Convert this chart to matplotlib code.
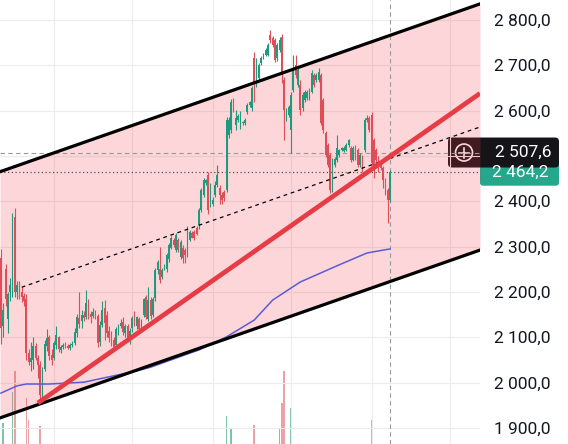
import matplotlib.pyplot as plt
import numpy as np
from matplotlib.patches import FancyBboxPatch, Circle
from matplotlib.lines import Line2D
from matplotlib.transforms import IdentityTransform

# OHLC candles, oldest first
opens = [
    2275, 2125, 2250, 2140, 2200, 2195, 2365, 2200, 2215, 2200,
    2192, 2185, 2065, 2045, 2050, 2080, 2055, 2040, 1972, 2030,
    2080, 2100, 2060, 2055, 2082, 2100, 2073, 2078, 2082, 2080,
    2077, 2084, 2088, 2110, 2142, 2135, 2150, 2145, 2178, 2152,
    2148, 2156, 2148, 2090, 2128, 2165, 2150, 2115, 2108, 2095,
    2082, 2112, 2125, 2134, 2110, 2124, 2100, 2120, 2150, 2124,
    2140, 2122, 2150, 2188, 2140, 2182, 2150, 2187, 2248, 2250,
    2232, 2252, 2250, 2272, 2298, 2315, 2293, 2315, 2278, 2298,
    2293, 2282, 2315, 2330, 2332, 2342, 2348, 2381, 2414, 2440,
    2458, 2393, 2395, 2415, 2437, 2430, 2415, 2420, 2425, 2547,
    2557, 2612, 2568, 2580, 2568, 2572, 2572, 2597, 2612, 2606,
    2716, 2657, 2672, 2705, 2718, 2723, 2723, 2767, 2760, 2756,
    2716, 2734, 2762, 2668, 2584, 2590, 2557, 2646, 2701, 2657,
    2657, 2606, 2624, 2628, 2628, 2642, 2679, 2668, 2668, 2679,
    2624, 2551, 2524, 2502, 2425, 2480, 2491, 2502, 2513, 2511,
    2513, 2524, 2518, 2491, 2520, 2513, 2480, 2498, 2513, 2579,
    2584, 2590, 2535, 2513, 2496, 2482, 2474, 2447, 2425, 2403,
]
highs = [
    2295, 2175, 2262, 2200, 2230, 2375, 2385, 2225, 2225, 2212,
    2198, 2195, 2075, 2090, 2100, 2088, 2060, 2048, 2035, 2095,
    2118, 2105, 2075, 2092, 2125, 2104, 2082, 2088, 2090, 2086,
    2088, 2092, 2120, 2152, 2200, 2160, 2158, 2205, 2185, 2158,
    2165, 2160, 2152, 2135, 2180, 2182, 2158, 2125, 2115, 2100,
    2122, 2130, 2140, 2145, 2130, 2130, 2120, 2146, 2158, 2148,
    2145, 2140, 2186, 2194, 2210, 2188, 2190, 2252, 2270, 2300,
    2252, 2262, 2286, 2308, 2324, 2320, 2330, 2320, 2315, 2304,
    2296, 2345, 2336, 2334, 2336, 2346, 2385, 2430, 2452, 2450,
    2465, 2440, 2410, 2445, 2480, 2435, 2420, 2425, 2585, 2585,
    2625, 2628, 2602, 2592, 2600, 2578, 2584, 2616, 2622, 2654,
    2730, 2716, 2705, 2720, 2726, 2738, 2750, 2778, 2765, 2760,
    2750, 2762, 2768, 2675, 2606, 2612, 2640, 2723, 2723, 2695,
    2668, 2640, 2646, 2646, 2650, 2690, 2684, 2682, 2695, 2684,
    2628, 2556, 2528, 2506, 2496, 2497, 2547, 2516, 2520, 2521,
    2528, 2538, 2522, 2522, 2524, 2517, 2506, 2502, 2584, 2590,
    2588, 2597, 2540, 2518, 2500, 2486, 2478, 2452, 2430, 2470,
]
lows = [
    2085, 2100, 2170, 2110, 2180, 2190, 2190, 2185, 2185, 2178,
    2170, 2050, 2040, 2025, 2030, 2050, 2010, 1960, 1965, 2025,
    2070, 2050, 2040, 2050, 2075, 2068, 2065, 2074, 2076, 2074,
    2072, 2078, 2084, 2100, 2120, 2120, 2135, 2140, 2140, 2132,
    2142, 2140, 2078, 2080, 2122, 2095, 2100, 2090, 2080, 2072,
    2078, 2105, 2120, 2105, 2100, 2090, 2085, 2112, 2126, 2118,
    2112, 2118, 2145, 2140, 2135, 2140, 2145, 2180, 2240, 2220,
    2228, 2248, 2245, 2266, 2294, 2300, 2288, 2288, 2272, 2265,
    2265, 2278, 2312, 2318, 2314, 2325, 2340, 2376, 2410, 2436,
    2372, 2388, 2390, 2410, 2432, 2393, 2395, 2400, 2420, 2540,
    2550, 2598, 2557, 2575, 2560, 2568, 2568, 2592, 2608, 2600,
    2620, 2652, 2668, 2700, 2714, 2720, 2720, 2750, 2740, 2708,
    2710, 2730, 2660, 2535, 2578, 2585, 2507, 2640, 2672, 2652,
    2590, 2600, 2620, 2624, 2624, 2638, 2652, 2664, 2664, 2568,
    2550, 2498, 2476, 2419, 2420, 2476, 2486, 2498, 2510, 2508,
    2510, 2520, 2486, 2488, 2492, 2476, 2476, 2465, 2508, 2575,
    2552, 2480, 2452, 2486, 2465, 2470, 2430, 2415, 2352, 2398,
]
closes = [
    2120, 2160, 2185, 2195, 2215, 2335, 2200, 2215, 2195, 2188,
    2180, 2065, 2045, 2055, 2080, 2055, 2040, 1972, 2030, 2085,
    2098, 2058, 2050, 2088, 2105, 2075, 2078, 2082, 2080, 2077,
    2084, 2086, 2112, 2145, 2130, 2150, 2142, 2175, 2152, 2145,
    2156, 2150, 2088, 2128, 2160, 2132, 2110, 2098, 2088, 2078,
    2118, 2125, 2132, 2112, 2124, 2096, 2115, 2142, 2132, 2144,
    2118, 2136, 2184, 2144, 2182, 2146, 2184, 2248, 2266, 2226,
    2248, 2257, 2282, 2304, 2320, 2304, 2326, 2293, 2311, 2276,
    2282, 2320, 2332, 2320, 2318, 2328, 2381, 2425, 2447, 2447,
    2381, 2437, 2403, 2437, 2459, 2415, 2403, 2407, 2579, 2579,
    2620, 2601, 2584, 2588, 2597, 2575, 2580, 2612, 2618, 2650,
    2660, 2712, 2701, 2716, 2723, 2734, 2745, 2756, 2745, 2712,
    2745, 2756, 2679, 2601, 2601, 2608, 2635, 2690, 2679, 2690,
    2601, 2635, 2642, 2642, 2646, 2683, 2657, 2679, 2686, 2573,
    2557, 2503, 2480, 2425, 2491, 2493, 2518, 2513, 2518, 2518,
    2524, 2535, 2491, 2518, 2496, 2480, 2502, 2469, 2579, 2584,
    2557, 2485, 2469, 2491, 2469, 2474, 2447, 2419, 2403, 2464.2,
]
volumes = [
    38, 64, 35, 30, 33, 85, 99, 32, 28, 30,
    34, 81, 66, 36, 30, 27, 40, 62, 44, 33,
    29, 31, 27, 30, 33, 26, 21, 19, 20, 18,
    22, 20, 31, 35, 38, 26, 24, 36, 29, 22,
    21, 19, 41, 30, 35, 37, 34, 26, 27, 24,
    30, 22, 20, 27, 25, 28, 24, 29, 26, 25,
    27, 24, 33, 35, 38, 32, 30, 44, 36, 41,
    26, 22, 30, 32, 29, 24, 28, 30, 27, 31,
    25, 36, 24, 20, 22, 23, 34, 42, 40, 25,
    46, 33, 26, 31, 35, 30, 24, 22, 69, 45,
    60, 38, 31, 24, 28, 20, 21, 30, 26, 39,
    63, 41, 33, 27, 26, 30, 36, 44, 32, 40,
    35, 60, 78, 99, 42, 30, 74, 46, 38, 31,
    40, 30, 27, 24, 25, 33, 28, 22, 27, 48,
    44, 39, 37, 47, 42, 28, 35, 25, 21, 20,
    24, 26, 30, 27, 25, 29, 26, 31, 45, 28,
    33, 66, 47, 30, 34, 26, 38, 41, 48, 44,
]

# moving average, sampled at candle indices
ma_idx = [0, 7, 11, 21, 36, 59, 65, 82, 86, 98, 110, 118, 130, 147, 159, 169]
ma_vals = [1977, 1993, 1997, 1997, 2001, 2026, 2034, 2065, 2072, 2101,
           2138, 2182, 2222, 2260, 2286, 2295]

# parallel channel and trend line anchors (candle index, price)
chan_idx = [0, 169]
chan_upper = [2466, 2766]
chan_lower = [1923, 2223]
mid_start = 9
trend_idx = [16, 169]
trend_vals = [1955, 2499]

price_ticks = [1900, 2000, 2100, 2200, 2300, 2400, 2500, 2600, 2700, 2800]
time_grid = [23, 57, 92, 126, 161, 195]
last_price = 2464.2
line_price = 2507.6

GREEN = '#1f9a7d'
RED = '#de4d58'


def fmt_price(p, decimals=1):
    return f"{p:,.{decimals}f}".replace(",", " ").replace(".", ",")


fig = plt.figure(figsize=(5.68, 4.44), dpi=100)
fig.patch.set_facecolor('white')
ax = fig.add_axes([0, 0, 480 / 568, 1])
ax2 = ax.twinx()

xmin, xmax = -0.43, 208.1
ax.set_xlim(xmin, xmax)
ax.set_ylim(1864.7, 2844)

ax.set_zorder(2)
ax.patch.set_visible(False)
for s in list(ax.spines.values()) + list(ax2.spines.values()):
    s.set_visible(False)

# grid
for p in price_ticks:
    ax.axhline(p, color='#ececec', lw=0.8, zorder=0)
for t in time_grid:
    ax.axvline(t, color='#ececec', lw=0.8, zorder=0)


def line_at(xs, ys, x):
    k = (ys[1] - ys[0]) / (xs[1] - xs[0])
    return ys[0] + k * (x - xs[0])


# channel fill and borders
ax.fill_between([xmin, xmax],
                [line_at(chan_idx, chan_lower, xmin), line_at(chan_idx, chan_lower, xmax)],
                [line_at(chan_idx, chan_upper, xmin), line_at(chan_idx, chan_upper, xmax)],
                color='#f23645', alpha=0.2, lw=0, zorder=1)
ax.axline((chan_idx[0], chan_upper[0]), (chan_idx[1], chan_upper[1]), color='black', lw=2.3, zorder=6)
ax.axline((chan_idx[0], chan_lower[0]), (chan_idx[1], chan_lower[1]), color='black', lw=2.3, zorder=6)
mid = [(u + l) / 2 for u, l in zip(chan_upper, chan_lower)]
ax.plot([mid_start, xmax], [line_at(chan_idx, mid, mid_start), line_at(chan_idx, mid, xmax)],
        color='black', lw=0.9, dashes=(3, 3), zorder=5)

# price lines and crosshair
ax.axhline(line_price, color='#9a9a9a', lw=0.8, dashes=(4, 3), zorder=2)
ax.axhline(last_price, color='#555555', lw=0.9, dashes=(1, 2), zorder=2)
ax.axvline(len(closes) - 1, color='#9a9a9a', lw=0.8, dashes=(4, 3), zorder=2)

# volume
idx = np.arange(len(closes))
o = np.array(opens)
c = np.array(closes)
up = c >= o
ax2.bar(idx, volumes, width=0.7, color=np.where(up, '#7cc4b0', '#eda1a6'), zorder=1)
ax2.set_ylim(50, 350)
ax2.set_yticks([])

# candles
colors = np.where(up, GREEN, RED)
ax.vlines(idx, lows, highs, colors=colors, lw=0.8, zorder=3)
ax.bar(idx, np.maximum(np.abs(c - o), 1.5), bottom=np.minimum(o, c),
       width=0.75, color=colors, zorder=3)

# moving average and trend line
ax.plot(ma_idx, ma_vals, color='#5b5bd6', lw=1.1, zorder=4)
ax.plot([trend_idx[0], xmax], [trend_vals[0], line_at(trend_idx, trend_vals, xmax)],
        color='#e63c46', lw=3.4, solid_capstyle='butt', zorder=7)

# right price scale; the 2 500 level sits under the line label
ax.yaxis.tick_right()
ax.set_yticks(price_ticks)
ax.set_yticklabels(["" if p == 2500 else fmt_price(p) for p in price_ticks],
                   fontsize=12.5, family='Roboto', color='#131722')
ax.tick_params(axis='y', length=0, pad=10)
ax.set_xticks([])

# price labels on the scale
fig.canvas.draw()
y_line = ax.transData.transform((0, line_price))[1]
y_last = ax.transData.transform((0, last_price))[1]
ident = IdentityTransform()

fig.add_artist(FancyBboxPatch((480, y_last - 13.5), 79, 27, boxstyle='round,pad=0,rounding_size=3',
                              fc='#26a68a', ec='none', transform=ident))
fig.add_artist(plt.Text(520, y_last, fmt_price(last_price),
                        color='white', fontsize=12.5, family='Roboto', ha='center', va='center',
                        transform=ident))
fig.add_artist(FancyBboxPatch((448, y_line - 15), 111, 30, boxstyle='round,pad=0,rounding_size=4',
                              fc='#151519', ec='none', transform=ident))
fig.add_artist(plt.Text(523, y_line, fmt_price(line_price),
                        color='white', fontsize=12.5, family='Roboto', ha='center', va='center',
                        transform=ident))
fig.add_artist(Circle((464, y_line), 8.5, fc='none', ec='white', lw=1.2, transform=ident))
fig.add_artist(Line2D([459, 469], [y_line, y_line], color='white', lw=1.2, transform=ident))
fig.add_artist(Line2D([464, 464], [y_line - 5, y_line + 5], color='white', lw=1.2, transform=ident))

fig.savefig('out.png', dpi=100)
